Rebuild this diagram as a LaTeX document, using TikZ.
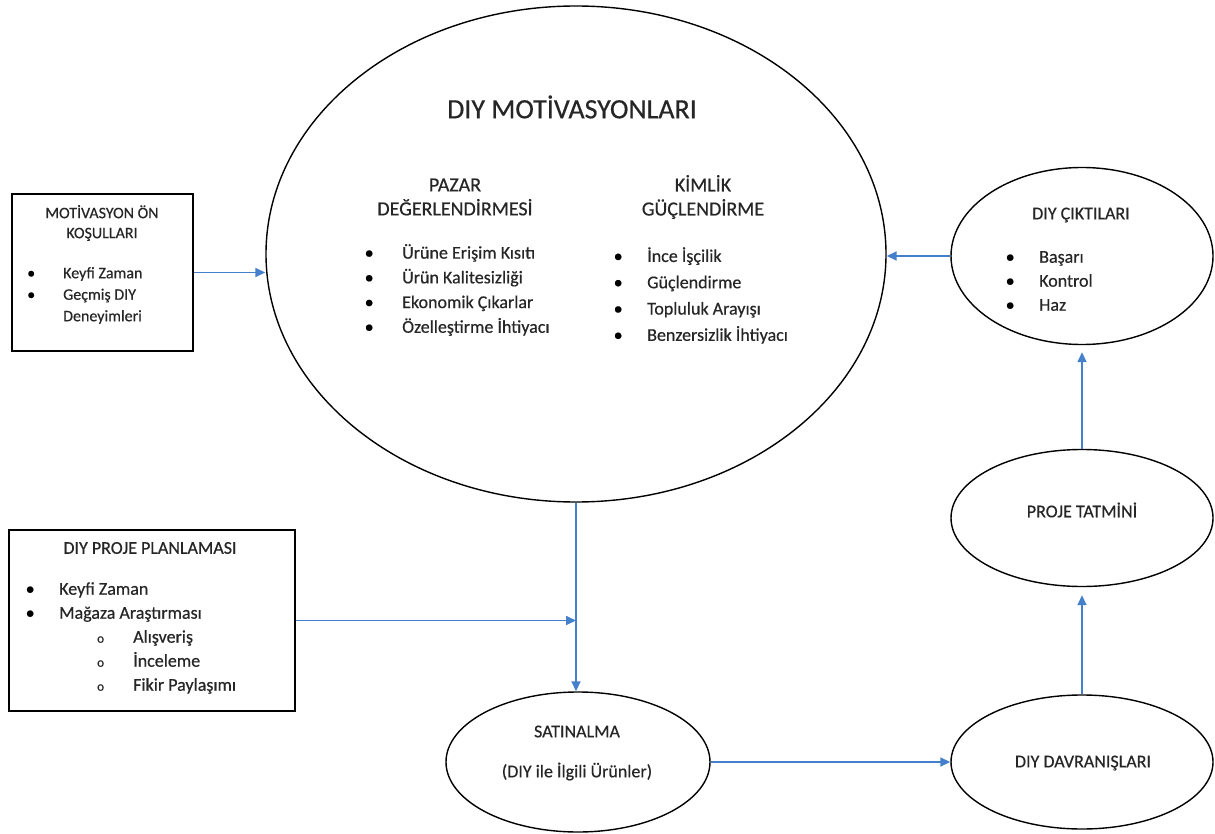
\documentclass[tikz,border=0pt]{standalone}
\usepackage{fontspec}
\setmainfont{Carlito}[FakeBold=0.5]
\usetikzlibrary{arrows.meta,shapes.geometric}
\definecolor{arrowblue}{RGB}{68,128,204}
\tikzset{
  oval/.style={ellipse,draw=black,line width=1.4pt,inner sep=0pt},
  box/.style={rectangle,draw=black,line width=1.5pt,inner sep=0pt},
  txt/.style={inner sep=0pt,text=black!85,font=\fontsize{18}{22}\selectfont},
  arr/.style={draw=arrowblue,line width=1.6pt,-{Triangle[length=10pt,width=9pt]}},
}
\newcommand{\bul}[1]{\makebox[#1][l]{\textcolor{black}{•}}}
\newcommand{\sub}[1]{\makebox[#1][l]{\fontsize{13}{13}\selectfont o}}
\begin{document}
\begin{tikzpicture}[x=1pt,y=-1pt]
\useasboundingbox (0,0) rectangle (1215,834);
% shapes
\node[oval,minimum width=620pt,minimum height=496pt] (big) at (576,254) {};
\node[box,minimum width=181pt,minimum height=157pt] (box1) at (102.5,272.5) {};
\node[box,minimum width=286pt,minimum height=181pt] (box2) at (152,620.5) {};
\node[oval,minimum width=262pt,minimum height=177pt] (cikti) at (1082,256) {};
\node[oval,minimum width=262pt,minimum height=137pt] (proje) at (1082,518) {};
\node[oval,minimum width=262pt,minimum height=134pt] (davr) at (1082,762) {};
\node[oval,minimum width=264pt,minimum height=140pt] (satin) at (578,762) {};
% texts in big ellipse
\node[txt,font=\fontsize{28}{32}\selectfont] (bigtitle) at (572,107) {DIY MOTİVASYONLARI};
\node[txt,align=center,font=\fontsize{20}{24}\selectfont] (pazarT) at (455,197) {PAZAR\\DEĞERLENDİRMESİ};
\node[txt,align=center,font=\fontsize{20}{24}\selectfont] (kimlikT) at (703,197) {KİMLİK\\GÜÇLENDİRME};
\node[txt,align=left,anchor=west,font=\fontsize{18}{24.7}\selectfont] (pazarL) at (364.5,290)
  {\bul{37.5pt}Ürüne Erişim Kısıtı\\\bul{37.5pt}Ürün Kalitesizliği\\\bul{37.5pt}Ekonomik Çıkarlar\\\bul{37.5pt}Özelleştirme İhtiyacı};
\node[txt,align=left,anchor=west,font=\fontsize{18}{26.3}\selectfont] (kimlikL) at (613.5,295.5)
  {\bul{33.5pt}İnce İşçilik\\\bul{33.5pt}Güçlendirme\\\bul{33.5pt}Topluluk Arayışı\\\bul{33.5pt}Benzersizlik İhtiyacı};
% box 1
\node[txt,align=center,font=\fontsize{16}{20}\selectfont] (box1T) at (102,223) {MOTİVASYON ÖN\\KOŞULLARI};
\node[txt,align=left,anchor=west,font=\fontsize{16}{21.5}\selectfont] (box1L) at (27,295.5)
  {\bul{36pt}Keyfi Zaman\\\bul{36pt}Geçmiş DIY\\\hspace*{36pt}Deneyimleri};
% box 2
\node[txt] (box2T) at (150,548) {DIY PROJE PLANLAMASI};
\node[txt,align=left,anchor=west,font=\fontsize{18}{24}\selectfont] (box2L) at (25.5,638)
  {\bul{33.5pt}Keyfi Zaman\\\bul{33.5pt}Mağaza Araştırması\\
   \hspace*{71.5pt}\sub{36pt}Alışveriş\\\hspace*{71.5pt}\sub{36pt}İnceleme\\\hspace*{71.5pt}\sub{36pt}Fikir Paylaşımı};
% right column
\node[txt] (ciktiT) at (1081,215) {DIY ÇIKTILARI};
\node[txt,align=left,anchor=west,font=\fontsize{18}{24}\selectfont] (ciktiL) at (1005.5,281)
  {\bul{33.5pt}Başarı\\\bul{33.5pt}Kontrol\\\bul{33.5pt}Haz};
\node[txt] (projeT) at (1082,510) {PROJE TATMİNİ};
\node[txt] (davrT) at (1083,763) {DIY DAVRANIŞLARI};
\node[txt,align=center,font=\fontsize{18}{40}\selectfont] (satinT) at (577,753) {SATINALMA\\(DIY ile İlgili Ürünler)};
% connectors
\coordinate (join) at (big.south |- box2.east);
\draw[arr] (box1.east) -- (box1.east -| big.west);
\draw[arr] (cikti.west) -- (cikti.west -| big.east);
\draw[arr] (big.south) -- (big.south |- satin.north);
\draw[arr] (box2.east) -- (join);
\draw[arr] (satin.east) -- (davr.west);
\draw[arr,shorten >=8pt] (davr.north) -- (proje.south);
\draw[arr,shorten >=7pt] (proje.north) -- (cikti.south);
\end{tikzpicture}
\end{document}
